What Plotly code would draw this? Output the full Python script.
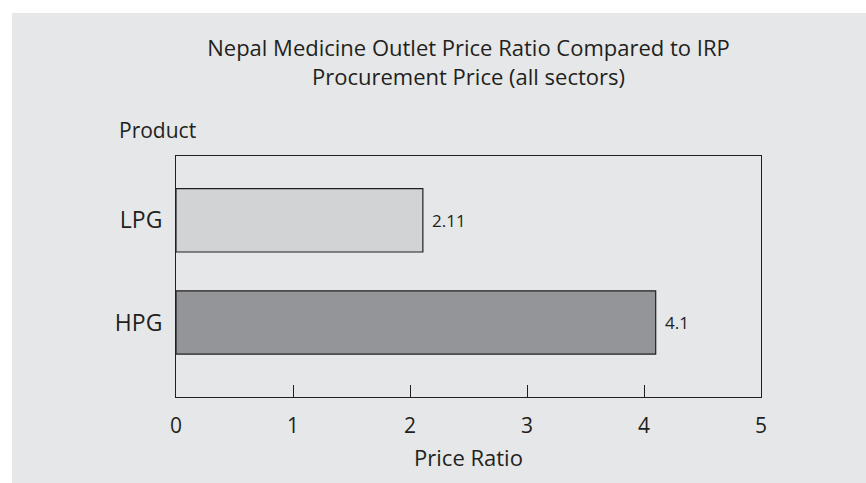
import plotly.graph_objects as go

categories = ["HPG", "LPG"]
values = [4.1, 2.11]
value_labels = ["4.1", "2.11"]
bar_colors = ["#939598", "#d1d3d4"]
x_ticks = [0, 1, 2, 3, 4, 5]

FONT = "'Open Sans', Lato, sans-serif"
TXT = "#231f20"

fig = go.Figure()
fig.add_trace(go.Bar(
    y=categories, x=values, orientation="h",
    marker=dict(color=bar_colors, line=dict(color=TXT, width=1.2)),
    width=0.62, showlegend=False, hoverinfo="x+y",
))

annotations = [dict(text="Product", xref="paper", yref="paper", x=-59/585, y=1.108,
                    xanchor="left", yanchor="middle", showarrow=False,
                    font=dict(size=21, color=TXT, family=FONT))]
for cat, v, lab in zip(categories, values, value_labels):
    annotations.append(dict(text=lab, x=v, y=cat, xref="x", yref="y", xanchor="left",
                            yanchor="middle", xshift=7, showarrow=False,
                            font=dict(size=17, color=TXT, family=FONT)))

fig.update_layout(
    width=866, height=483,
    margin=dict(l=176, r=105, t=156, b=86),
    paper_bgcolor="white", plot_bgcolor="white",
    font=dict(family=FONT, color=TXT, size=21),
    title=dict(text="Nepal Medicine Outlet Price Ratio Compared to IRP<br>Procurement Price (all sectors)",
               xref="paper", x=0.5, xanchor="center", yref="container", y=1-56/483, yanchor="middle",
               font=dict(size=22, color=TXT, family=FONT)),
    shapes=[dict(type="rect", xref="paper", yref="paper", layer="below",
                 x0=-164/585, x1=1+105/585, y0=-86/241, y1=1+143/241,
                 fillcolor="#e6e7e8", line=dict(width=0))],
    annotations=annotations,
)
fig.update_xaxes(range=[0, 5], tickvals=x_ticks, ticks="inside", ticklen=12, tickcolor=TXT,
                 tickwidth=1, showline=True, mirror=True, linecolor=TXT, linewidth=1,
                 showgrid=False, zeroline=False, tickfont=dict(size=21), ticklabelstandoff=10,
                 title=dict(text="Price Ratio", font=dict(size=22), standoff=12))
fig.update_yaxes(range=[-0.73, 1.63], categoryorder="array", categoryarray=categories,
                 ticks="", showline=True, mirror=True, linecolor=TXT, linewidth=1,
                 showgrid=False, zeroline=False, tickfont=dict(size=23), ticklabelstandoff=8)

fig.write_html("out.html", config={"displayModeBar": False},
               post_script="document.body.style.margin='0';")
